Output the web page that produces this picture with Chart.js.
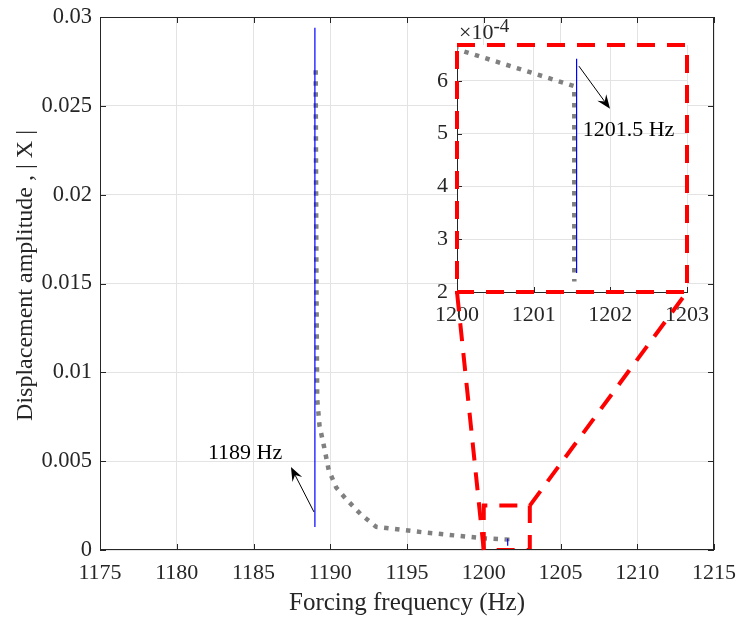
<!DOCTYPE html>
<html><head><meta charset="utf-8">
<script src="https://cdn.jsdelivr.net/npm/chart.js@4.4.1/dist/chart.umd.min.js"></script>
<style>
html,body{margin:0;padding:0;background:#fff;}
#wrap{position:relative;width:736px;height:618px;}
canvas{position:absolute;left:0;top:0;}
</style></head><body>
<div id="wrap"><canvas id="main" width="736" height="618"></canvas><canvas id="inset" width="736" height="618"></canvas></div>
<script>
// ---- data ----
const xTicksMain = [1175, 1180, 1185, 1190, 1195, 1200, 1205, 1210, 1215];
const yTicksMain = [0, 0.005, 0.01, 0.015, 0.02, 0.025, 0.03];
const yTickLabelsMain = ['0', '0.005', '0.01', '0.015', '0.02', '0.025', '0.03'];
const xTicksInset = [1200, 1201, 1202, 1203];
const yTicksInset = [2e-4, 3e-4, 4e-4, 5e-4, 6e-4];
const yTickLabelsInset = ['2', '3', '4', '5', '6'];

// dotted gray branch
const grayFreq = [1189.05, 1189.1, 1189.15, 1189.3, 1189.6, 1189.9, 1190.4, 1191, 1192, 1193, 1196, 1200, 1201.53, 1201.53];
const grayAmp  = [0.0270, 0.0150, 0.0085, 0.0070, 0.0058, 0.0045, 0.0035, 0.0029, 0.0020, 0.0013, 0.0010, 0.00066, 0.00059, 0.00022];
// blue jumps
const blueFreqA = [1189, 1189];
const blueAmpA  = [0.0013, 0.0294];
const blueFreqB = [1201.56, 1201.56];
const blueAmpB  = [0.000236, 0.000642];
// zoom box in main axes
const zoomBoxFreq = [1200, 1200, 1203, 1203, 1200];
const zoomBoxAmp  = [0, 0.0025, 0.0025, 0, 0];
// annotations
const annMain = {text: '1189 Hz', tail: [1188.94, 0.00214], head: [1187.44, 0.00467], label: [1184.45, 0.00546]};
const annInset = {text: '1201.5 Hz', tail: [1201.59, 6.28e-4], head: [1201.996, 5.47e-4], label: [1201.64, 5.07e-4]};
const yTitle = 'Displacement amplitude , | X |';
const xTitle = 'Forcing frequency (Hz)';

const pts = (xs, ys) => xs.map((x, i) => ({x, y: ys[i]}));

const FONT = "'Liberation Serif', 'Times New Roman', serif";
const TXT = '#262626';
const GRID = '#e3e3e3';
Chart.defaults.font.family = FONT;
Chart.defaults.color = TXT;

function noPad(s) { s.paddingLeft = 0; s.paddingRight = 0; s.paddingTop = 0; s.paddingBottom = 0; }

function arrow(ctx, x1, y1, x2, y2) {
  const ang = Math.atan2(y2 - y1, x2 - x1);
  const L = 14, W = 5.5, B = 9;
  const c = Math.cos(ang), s = Math.sin(ang);
  ctx.beginPath(); ctx.moveTo(x1, y1); ctx.lineTo(x2 - B * c, y2 - B * s); ctx.stroke();
  ctx.beginPath();
  ctx.moveTo(x2, y2);
  ctx.lineTo(x2 - L * c - W * s, y2 - L * s + W * c);
  ctx.lineTo(x2 - B * c, y2 - B * s);
  ctx.lineTo(x2 - L * c + W * s, y2 - L * s - W * c);
  ctx.closePath(); ctx.fill();
}

const datasetsFor = () => [
  {label: 'zoom', data: pts(zoomBoxFreq, zoomBoxAmp), borderColor: '#ff0000', borderWidth: 4, borderDash: [18, 12], order: 0},
  {label: 'blueA', data: pts(blueFreqA, blueAmpA), borderColor: '#0000ff', borderWidth: 1.2, order: 1},
  {label: 'blueB', data: pts(blueFreqB, blueAmpB), borderColor: '#0000ff', borderWidth: 1.2, order: 1},
  {label: 'gray', data: pts(grayFreq, grayAmp), borderColor: '#808080', borderWidth: 4.5, borderDash: [4.5, 6.5], borderCapStyle: 'butt', order: 2}
].map(d => Object.assign({showLine: true, pointRadius: 0, fill: false, tension: 0}, d));

const mainDecor = {
  id: 'mainDecor',
  afterDraw(chart) {
    const {ctx, chartArea: a, scales: {x, y}} = chart;
    ctx.save();
    ctx.strokeStyle = TXT; ctx.lineWidth = 1;
    ctx.beginPath();
    xTicksMain.forEach(v => {
      const p = Math.round(x.getPixelForValue(v)) + 0.5;
      ctx.moveTo(p, a.bottom); ctx.lineTo(p, a.bottom - 6);
      ctx.moveTo(p, a.top); ctx.lineTo(p, a.top + 6);
    });
    yTicksMain.forEach(v => {
      const p = Math.round(y.getPixelForValue(v)) + 0.5;
      ctx.moveTo(a.left, p); ctx.lineTo(a.left + 6, p);
      ctx.moveTo(a.right, p); ctx.lineTo(a.right - 6, p);
    });
    ctx.stroke();
    ctx.strokeRect(a.left + 0.5, a.top + 0.5, a.right - a.left - 1, a.bottom - a.top - 1);
    // y axis title
    ctx.save();
    ctx.translate(26, (a.top + a.bottom) / 2 - 8);
    ctx.rotate(-Math.PI / 2);
    ctx.fillStyle = TXT; ctx.font = '24px ' + FONT; ctx.textAlign = 'center'; ctx.textBaseline = 'middle';
    ctx.fillText(yTitle, 0, 0);
    ctx.restore();
    // annotation
    ctx.fillStyle = '#000'; ctx.strokeStyle = '#000'; ctx.lineWidth = 1;
    arrow(ctx, x.getPixelForValue(annMain.tail[0]), y.getPixelForValue(annMain.tail[1]),
               x.getPixelForValue(annMain.head[0]), y.getPixelForValue(annMain.head[1]));
    ctx.font = '22px ' + FONT; ctx.textAlign = 'center'; ctx.textBaseline = 'middle';
    ctx.fillText(annMain.text, x.getPixelForValue(annMain.label[0]), y.getPixelForValue(annMain.label[1]));
    ctx.restore();
  }
};

const mainChart = new Chart(document.getElementById('main'), {
  type: 'scatter',
  data: {datasets: datasetsFor()},
  options: {
    responsive: false, animation: false, events: [],
    layout: {padding: {top: 17, right: 22, left: 0, bottom: 0}},
    plugins: {legend: {display: false}, tooltip: {enabled: false}},
    scales: {
      x: {
        type: 'linear', min: 1175, max: 1215,
        afterBuildTicks: s => { s.ticks = xTicksMain.map(v => ({value: v})); },
        afterFit: s => { s.height = 68; noPad(s); },
        ticks: {font: {size: 22}, color: TXT, padding: 10, maxRotation: 0, callback: v => String(v)},
        grid: {color: GRID, drawTicks: false},
        border: {display: false},
        title: {display: true, text: xTitle, font: {size: 25, lineHeight: 1.2}, color: TXT, padding: {top: 0, bottom: 0}}
      },
      y: {
        type: 'linear', min: 0, max: 0.03,
        afterBuildTicks: s => { s.ticks = yTicksMain.map(v => ({value: v})); },
        afterFit: s => { s.width = 100; noPad(s); },
        ticks: {font: {size: 22.5}, color: TXT, padding: 8, callback: (v, i) => yTickLabelsMain[i]},
        grid: {color: GRID, drawTicks: false},
        border: {display: false}
      }
    }
  },
  plugins: [mainDecor]
});

const insetDecor = {
  id: 'insetDecor',
  beforeDraw(chart) {
    const {ctx, chartArea: a} = chart;
    ctx.save(); ctx.fillStyle = '#fff';
    ctx.fillRect(a.left, a.top, a.right - a.left, a.bottom - a.top);
    ctx.restore();
  },
  afterDraw(chart) {
    const {ctx, chartArea: a, scales: {x, y}} = chart;
    const mx = mainChart.scales.x, my = mainChart.scales.y;
    ctx.save();
    ctx.strokeStyle = TXT; ctx.lineWidth = 1;
    ctx.beginPath();
    xTicksInset.forEach(v => {
      const p = Math.round(x.getPixelForValue(v)) + 0.5;
      ctx.moveTo(p, a.bottom); ctx.lineTo(p, a.bottom - 5);
    });
    yTicksInset.forEach(v => {
      const p = Math.round(y.getPixelForValue(v)) + 0.5;
      ctx.moveTo(a.left, p); ctx.lineTo(a.left + 5, p);
    });
    ctx.stroke();
    // exponent label
    ctx.fillStyle = TXT; ctx.textAlign = 'left'; ctx.textBaseline = 'alphabetic';
    ctx.font = '22px ' + FONT; ctx.fillText('\u00d710', a.left + 2, a.top - 6);
    const w = ctx.measureText('\u00d710').width;
    ctx.font = '19px ' + FONT; ctx.fillText('-4', a.left + 2 + w, a.top - 13);
    // red dashed frame and connectors
    ctx.strokeStyle = '#ff0000'; ctx.lineWidth = 4; ctx.setLineDash([18, 12]);
    ctx.strokeRect(a.left, a.top, a.right - a.left, a.bottom - a.top);
    ctx.beginPath();
    ctx.moveTo(mx.getPixelForValue(zoomBoxFreq[0]), my.getPixelForValue(zoomBoxAmp[0]));
    ctx.lineTo(x.getPixelForValue(xTicksInset[0]), y.getPixelForValue(y.min));
    ctx.stroke();
    ctx.beginPath();
    ctx.moveTo(mx.getPixelForValue(zoomBoxFreq[2]), my.getPixelForValue(zoomBoxAmp[2]));
    ctx.lineTo(x.getPixelForValue(xTicksInset[3]), y.getPixelForValue(y.min));
    ctx.stroke();
    ctx.setLineDash([]);
    // annotation
    ctx.fillStyle = '#000'; ctx.strokeStyle = '#000'; ctx.lineWidth = 1;
    arrow(ctx, x.getPixelForValue(annInset.tail[0]), y.getPixelForValue(annInset.tail[1]),
               x.getPixelForValue(annInset.head[0]), y.getPixelForValue(annInset.head[1]));
    ctx.font = '22px ' + FONT; ctx.textAlign = 'left'; ctx.textBaseline = 'middle';
    ctx.fillText(annInset.text, x.getPixelForValue(annInset.label[0]), y.getPixelForValue(annInset.label[1]));
    ctx.restore();
  }
};

const insetChart = new Chart(document.getElementById('inset'), {
  type: 'scatter',
  data: {datasets: datasetsFor().filter(d => d.label !== 'zoom')},
  options: {
    responsive: false, animation: false, events: [],
    layout: {padding: {top: 45, right: 49, left: 0, bottom: 0}},
    plugins: {legend: {display: false}, tooltip: {enabled: false}},
    scales: {
      x: {
        type: 'linear', min: 1200, max: 1203,
        afterBuildTicks: s => { s.ticks = xTicksInset.map(v => ({value: v})); },
        afterFit: s => { s.height = 326; noPad(s); },
        ticks: {font: {size: 22}, color: TXT, padding: 10, maxRotation: 0, callback: v => String(v)},
        grid: {color: GRID, drawTicks: false},
        border: {display: true, color: TXT, width: 1}
      },
      y: {
        type: 'linear', min: 2e-4, max: 6.68e-4,
        afterBuildTicks: s => { s.ticks = yTicksInset.map(v => ({value: v})); },
        afterFit: s => { s.width = 457; noPad(s); },
        ticks: {font: {size: 22}, color: TXT, padding: 9, callback: (v, i) => yTickLabelsInset[i]},
        grid: {color: GRID, drawTicks: false},
        border: {display: true, color: TXT, width: 1}
      }
    }
  },
  plugins: [insetDecor]
});
</script>
</body></html>
